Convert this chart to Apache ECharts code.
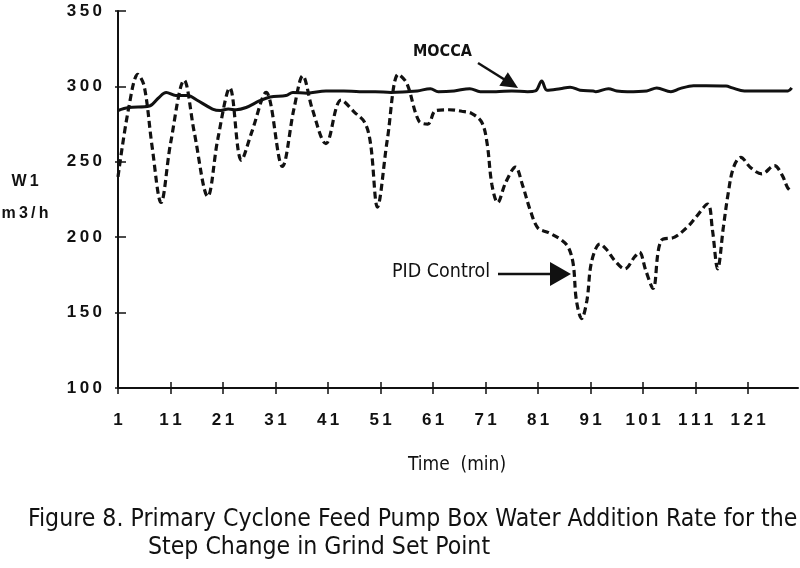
<!DOCTYPE html>
<html>
<head>
<meta charset="utf-8">
<script src="https://cdn.jsdelivr.net/npm/echarts@6/dist/echarts.min.js"></script>
<style>
html,body{margin:0;padding:0;background:#fff;}
#chart{width:800px;height:568px;}
</style>
</head>
<body>
<div id="chart"></div>
<script>
// ---- data ----
var xTickValues = [1, 11, 21, 31, 41, 51, 61, 71, 81, 91, 101, 111, 121];
var yTickValues = [100, 150, 200, 250, 300, 350];

var pidTime = [1, 3, 4.8, 6, 7.5, 9.2, 11, 13.6, 15.5, 18.1, 20, 22.3, 24.5, 26.5, 29.2, 32.3, 34.5, 36.2, 38, 40.6, 43.5, 46, 48, 49.1, 50.4, 52.3, 54.4, 56, 58.3, 60, 61.5, 64, 66.5, 68.4, 70.3, 71.3, 72.2, 73.3, 74.8, 76.7, 78, 79.5, 81, 83, 85.5, 86.8, 87.7, 88.3, 89.3, 90.3, 91.2, 92.8, 94, 95.6, 97.5, 99.4, 100.3, 101.5, 102.9, 104.4, 107, 109.5, 111, 113.3, 114.2, 115.2, 116.3, 117.2, 118.2, 119.6, 121.5, 123.6, 126, 127.5, 128.5, 129.3];
var pidValue = [240, 285, 308, 300, 260, 223, 262, 304, 270, 227, 265, 299, 251, 270, 296, 247, 285, 307, 285, 262, 291, 283, 276, 262, 220, 265, 308, 302, 277, 275, 284, 284.5, 283.5, 282, 276, 262, 235, 223, 236, 246.5, 235, 218, 206, 203, 198, 193, 182, 158, 146, 158, 184, 195.5, 192, 184.5, 179, 187, 190, 178, 166, 197.5, 200, 207, 213, 222, 205, 179, 207, 229, 246, 253, 246, 242, 247.5, 241, 233, 230];

var moccaTime = [1, 3, 7, 8.6, 10.2, 12, 14.3, 16, 19, 20.5, 22, 23.5, 25.4, 28, 30, 33, 34.3, 37, 40.6, 44, 47, 50, 53, 56, 58, 60.5, 62, 65, 68, 70, 73, 76, 79, 80.5, 81.7, 82.7, 85.2, 87.1, 89, 91.5, 92, 94.4, 96, 98, 101.7, 103.6, 106.3, 108, 110.6, 113, 116.8, 118, 120.3, 124, 128.6, 129.3];
var moccaValue = [284, 286, 287, 292, 296, 294, 294, 291, 285, 284, 285, 284.5, 286, 290.5, 293, 294, 296, 295.5, 297, 297, 296.5, 296.5, 296, 296.5, 297, 298.5, 296.5, 297, 298.5, 296.5, 296.5, 297, 296.5, 297, 303.5, 297.5, 298.5, 299.5, 297.5, 297, 296.5, 298.5, 297, 296.5, 297, 299, 296.5, 298.5, 300.5, 300.5, 300.3, 299, 297, 297, 297, 299];

var seriesNames = ['PID Control', 'MOCCA'];
var xAxisTitle = 'Time  (min)';
var yAxisTitle = ['W1', 'm3/h'];
var captionLines = ['Figure 8. Primary Cyclone Feed Pump Box Water Addition Rate for the', 'Step Change in Grind Set Point'];

function pairs(t, v) { return t.map(function (x, i) { return [x, v[i]]; }); }
function spaced(s, sep) { return String(s).split('').join(sep); }

var INK = '#111';
var FONT = "'Liberation Sans', Arial, Helvetica, sans-serif";
var NARROW = "'Liberation Sans Narrow', 'Arial Narrow', 'DejaVu Sans Condensed', sans-serif";
var chart = echarts.init(document.getElementById('chart'), null, {renderer: 'canvas'});

var xCommon = {type: 'value', min: 1, max: 130.5, splitLine: {show: false}, position: 'bottom'};
var yCommon = {type: 'value', min: 100, max: 350, splitLine: {show: false}, position: 'left'};

var option = {
  animation: false,
  backgroundColor: '#fff',
  grid: {left: 118, right: 2, top: 11, bottom: 180, containLabel: false},
  xAxis: [
    Object.assign({}, xCommon, {
      axisLine: {show: true, onZero: false, lineStyle: {color: INK, width: 2}},
      axisTick: {show: true, inside: false, length: 6, lineStyle: {color: INK, width: 1.5}, customValues: xTickValues},
      axisLabel: {show: true, margin: 24, color: INK, fontSize: 17, fontWeight: 'bold', fontFamily: FONT,
        customValues: xTickValues, formatter: function (v) { return spaced(v, '\u2009'); }}
    }),
    Object.assign({}, xCommon, {
      axisLine: {show: false},
      axisTick: {show: true, inside: true, length: 6, lineStyle: {color: INK, width: 1.5}, customValues: xTickValues},
      axisLabel: {show: false}
    })
  ],
  yAxis: [
    Object.assign({}, yCommon, {
      axisLine: {show: true, onZero: false, lineStyle: {color: INK, width: 2}},
      axisTick: {show: true, inside: false, length: 3, lineStyle: {color: INK, width: 1.5}, customValues: yTickValues},
      axisLabel: {show: true, margin: 16, color: INK, fontSize: 17, fontWeight: 'bold', fontFamily: FONT,
        customValues: yTickValues, formatter: function (v) { return spaced(v, '\u2009'); }}
    }),
    Object.assign({}, yCommon, {
      axisLine: {show: false},
      axisTick: {show: true, inside: true, length: 8, lineStyle: {color: INK, width: 1.5}, customValues: yTickValues},
      axisLabel: {show: false}
    })
  ],
  series: [
    {
      name: seriesNames[0], type: 'line', xAxisIndex: 0, yAxisIndex: 0,
      data: pairs(pidTime, pidValue), showSymbol: false, symbol: 'none', smooth: 0.35,
      lineStyle: {color: INK, width: 3.2, type: [7, 4], cap: 'butt'}, z: 2
    },
    {
      name: seriesNames[1], type: 'line', xAxisIndex: 0, yAxisIndex: 0,
      data: pairs(moccaTime, moccaValue), showSymbol: false, symbol: 'none', smooth: 0.35,
      lineStyle: {color: INK, width: 3}, z: 3
    }
  ],
  graphic: []
};

chart.setOption(option);

function arrowHead(tip, from, len, half) {
  var dx = tip[0] - from[0], dy = tip[1] - from[1];
  var d = Math.sqrt(dx * dx + dy * dy); var ux = dx / d, uy = dy / d;
  var bx = tip[0] - len * ux, by = tip[1] - len * uy;
  return [[tip[0], tip[1]], [bx - half * uy, by + half * ux], [bx + half * uy, by - half * ux]];
}
var moccaFrom = [478, 63], moccaTip = [518, 88];
var pidFrom = [498, 274], pidTip = [571, 274];
var g = [
  {type: 'text', left: 413, top: 44, style: {text: seriesNames[1], font: 'bold 16px ' + NARROW, fill: INK}},
  {type: 'line', shape: {x1: moccaFrom[0], y1: moccaFrom[1], x2: 506, y2: 80.5}, style: {stroke: INK, lineWidth: 2.5}},
  {type: 'polygon', shape: {points: arrowHead(moccaTip, moccaFrom, 17, 8)}, style: {fill: INK}},
  {type: 'text', left: 392, top: 262, style: {text: seriesNames[0], font: '19.5px ' + NARROW, fill: INK}},
  {type: 'line', shape: {x1: pidFrom[0], y1: pidFrom[1], x2: 552, y2: 274}, style: {stroke: INK, lineWidth: 2.5}},
  {type: 'polygon', shape: {points: arrowHead(pidTip, pidFrom, 21, 12)}, style: {fill: INK}},
  {type: 'text', x: 25, y: 182, style: {text: spaced(yAxisTitle[0], '\u2009'), font: 'bold 16px ' + FONT, fill: INK, align: 'center', verticalAlign: 'middle'}},
  {type: 'text', x: 25, y: 214, style: {text: spaced(yAxisTitle[1], '\u2009'), font: 'bold 16px ' + FONT, fill: INK, align: 'center', verticalAlign: 'middle'}},
  {type: 'text', x: 457, y: 465, style: {text: xAxisTitle, font: '19px ' + NARROW, fill: INK, align: 'center', verticalAlign: 'middle'}},
  {type: 'text', x: 28, y: 520, style: {text: captionLines[0], font: '24.6px ' + NARROW, fill: INK, align: 'left', verticalAlign: 'middle'}},
  {type: 'text', x: 148, y: 548, style: {text: captionLines[1], font: '24.6px ' + NARROW, fill: INK, align: 'left', verticalAlign: 'middle'}}
];
chart.setOption({graphic: g});
</script>
</body>
</html>
